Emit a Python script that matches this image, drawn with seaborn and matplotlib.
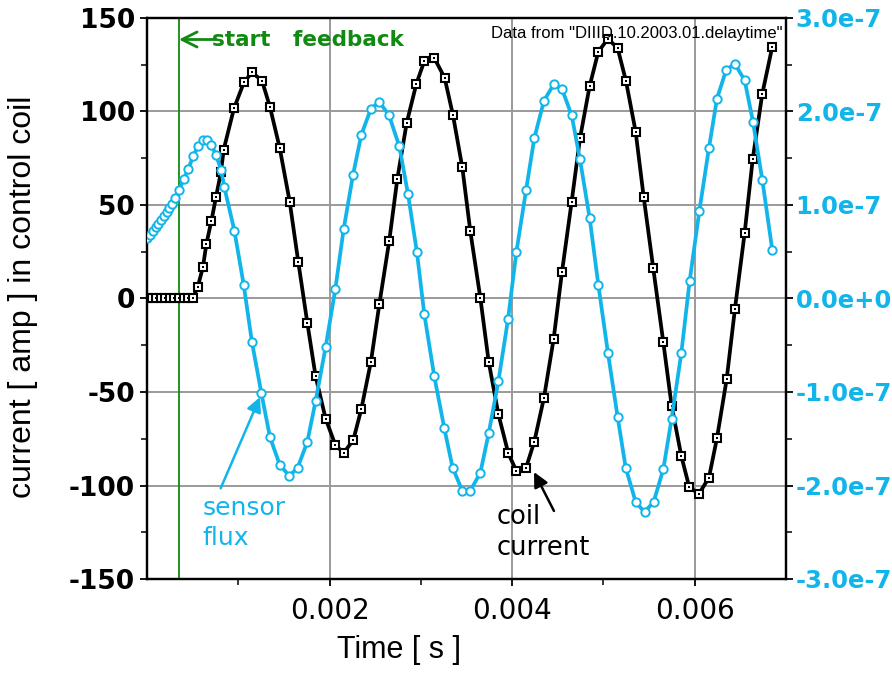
import matplotlib
matplotlib.use("Agg")
import matplotlib.pyplot as plt
import seaborn as sns
import pandas as pd
import numpy as np
from matplotlib.ticker import MultipleLocator, FixedLocator, FuncFormatter

# ---------------- data ----------------
coil_time_ms = [0.00, 0.05, 0.10, 0.15, 0.20, 0.25, 0.30, 0.35, 0.40, 0.45, 0.50,
                0.555, 0.613, 0.650, 0.705, 0.756, 0.810, 0.840,
                0.953, 1.062, 1.150, 1.260, 1.347, 1.453, 1.563, 1.658,
                1.756, 1.847, 1.957, 2.063, 2.154, 2.260, 2.348, 2.453, 2.545,
                2.654, 2.742, 2.844, 2.950, 3.038, 3.147, 3.260, 3.352, 3.454,
                3.542, 3.652,
                3.743, 3.849, 3.958, 4.046, 4.152, 4.243, 4.349, 4.455,
                4.546, 4.652, 4.743, 4.849, 4.944, 5.050, 5.156, 5.247, 5.353, 5.441, 5.546,
                5.656, 5.747, 5.853, 5.941, 6.047, 6.156, 6.244, 6.350, 6.441,
                6.547, 6.635, 6.740, 6.850]
coil_current_amp = [0, 0, 0, 0, 0, 0, 0, 0, 0, 0, 0,
                    6.0, 16.8, 29.1, 41.4, 54.3, 67.6, 79.6,
                    101.7, 115.6, 120.9, 116.5, 102.4, 80.7, 51.8, 19.3,
                    -12.9, -41.6, -64.3, -78.3, -82.6, -75.7, -59.1, -33.8, -3.1,
                    30.9, 63.9, 93.7, 114.7, 127.0, 128.6, 118.1, 98.0, 70.1,
                    35.9, 0.2,
                    -33.8, -61.8, -82.8, -92.2, -90.6, -76.5, -53.0, -21.5,
                    14.2, 51.8, 85.6, 113.6, 132.0, 138.9, 133.8, 116.3, 89.2, 54.3, 16.1,
                    -23.4, -57.3, -84.2, -101.0, -104.4, -95.8, -74.6, -43.2, -5.4,
                    35.0, 74.4, 109.4, 134.7]

sensor_time_ms = [0.005, 0.035, 0.065, 0.095, 0.125, 0.155, 0.185, 0.215, 0.245, 0.275,
                  0.310, 0.354, 0.402, 0.453, 0.507, 0.559, 0.610, 0.657, 0.705, 0.756,
                  0.810, 0.847, 0.957, 1.059,
                  1.150, 1.252, 1.347, 1.453, 1.559, 1.650, 1.756, 1.847, 1.957,
                  2.063, 2.154, 2.256, 2.348, 2.453, 2.545, 2.651, 2.764, 2.859, 2.957,
                  3.038, 3.147, 3.257, 3.348, 3.454, 3.542, 3.652, 3.743, 3.849, 3.955,
                  4.046, 4.152, 4.243, 4.349, 4.455, 4.546, 4.652, 4.743, 4.849, 4.944,
                  5.050, 5.156, 5.244, 5.353, 5.450, 5.550, 5.656, 5.747, 5.853,
                  5.944, 6.050, 6.156, 6.244, 6.346, 6.441, 6.547, 6.639, 6.741, 6.850]
# sensor flux in units of 1e-7
sensor_flux_e7 = [0.644, 0.684, 0.724, 0.760, 0.796, 0.836, 0.878, 0.922, 0.966, 1.012,
                  1.074, 1.164, 1.278, 1.386, 1.528, 1.628, 1.698, 1.698, 1.638, 1.538,
                  1.378, 1.192, 0.726, 0.148,
                  -0.468, -1.008, -1.482, -1.776, -1.898, -1.810, -1.534, -1.096, -0.518,
                  0.100, 0.740, 1.318, 1.752, 2.030, 2.102, 1.960, 1.628, 1.118, 0.494,
                  -0.170, -0.832, -1.388, -1.810, -2.056, -2.056, -1.862, -1.442, -0.886, -0.222,
                  0.494, 1.156, 1.716, 2.116, 2.290, 2.240, 1.960, 1.488, 0.860, 0.148,
                  -0.586, -1.270, -1.810, -2.176, -2.284, -2.176, -1.826, -1.286, -0.586,
                  0.184, 0.932, 1.610, 2.138, 2.448, 2.508, 2.334, 1.888, 1.264, 0.516]

left_ticks = [-150, -100, -50, 0, 50, 100, 150]
right_ticks_e7 = [-3, -2, -1, 0, 1, 2, 3]
x_ticks = [0.002, 0.004, 0.006]
feedback_start_s = 0.00035

coil = pd.DataFrame({"time": np.array(coil_time_ms) * 1e-3, "current": coil_current_amp})
sensor = pd.DataFrame({"time": np.array(sensor_time_ms) * 1e-3,
                       "flux": np.array(sensor_flux_e7) * 1e-7})

# ---------------- style ----------------
sns.set_style("ticks")
plt.rcParams["font.family"] = ["DejaVu Sans"]
plt.rcParams["axes.unicode_minus"] = False
plt.rcParams["text.color"] = "black"
plt.rcParams["axes.labelcolor"] = "black"

BLUE = "#12b5ea"
GREEN = "#128a12"

fig = plt.figure(figsize=(8.92, 6.73), dpi=100)
ax = fig.add_axes([147 / 892, 94 / 673, 639 / 892, 561 / 673])
ax2 = ax.twinx()

# grid
ax.set_xlim(0, 0.007)
ax.set_ylim(-150, 150)
ax2.set_ylim(-3e-7, 3e-7)
ax.xaxis.set_major_locator(FixedLocator(x_ticks))
ax.xaxis.set_minor_locator(FixedLocator([0.001, 0.003, 0.005]))
ax.yaxis.set_major_locator(FixedLocator(left_ticks))
ax.yaxis.set_minor_locator(MultipleLocator(25))
ax2.yaxis.set_major_locator(FixedLocator([v * 1e-7 for v in right_ticks_e7]))
ax2.yaxis.set_minor_locator(MultipleLocator(0.5e-7))
ax.grid(True, which="major", color="#9a9a9a", linewidth=1.4)
ax.set_axisbelow(True)

# curves
sns.lineplot(data=coil, x="time", y="current", ax=ax, color="black", linewidth=2.7,
             marker="s", markersize=5.6, markerfacecolor="white",
             markeredgecolor="black", markeredgewidth=1.5, zorder=3)
sns.scatterplot(data=coil, x="time", y="current", ax=ax, color="black", marker="s",
                s=2.5, linewidth=0, zorder=4)
sns.lineplot(data=sensor, x="time", y="flux", ax=ax2, color=BLUE, linewidth=2.7,
             marker="o", markersize=6.0, markerfacecolor="white",
             markeredgecolor=BLUE, markeredgewidth=1.4, zorder=3)

# start-feedback line
ax.axvline(feedback_start_s, color=GREEN, linewidth=1.3, zorder=2)
ax.annotate("", xy=(feedback_start_s, 138.5), xytext=(0.00075, 138.5),
            arrowprops=dict(arrowstyle="->,head_length=0.6,head_width=0.3", color=GREEN,
                            lw=2.0, mutation_scale=18, shrinkA=0, shrinkB=0))
ax.text(0.00071, 138.5, "start   feedback", color=GREEN, fontsize=15.5,
        fontweight="bold", ha="left", va="center")

ax.text(0.995, 0.985, 'Data from "DIIID.10.2003.01.delaytime"', transform=ax.transAxes,
        ha="right", va="top", fontsize=12, family=["Liberation Sans"])

# sensor flux label
ax.annotate("", xy=(0.001238, -52.7), xytext=(0.000807, -101.5),
            arrowprops=dict(arrowstyle="-|>", color=BLUE, lw=1.8,
                            mutation_scale=22, shrinkA=0, shrinkB=0))
ax.text(0.00061, -112, "sensor", color=BLUE, fontsize=18, ha="left", va="center")
ax.text(0.00061, -128, "flux", color=BLUE, fontsize=18, ha="left", va="center")

# coil current label
ax.annotate("", xy=(0.00424, -92.8), xytext=(0.004458, -113.6),
            arrowprops=dict(arrowstyle="-|>", color="black", lw=1.8,
                            mutation_scale=22, shrinkA=0, shrinkB=0))
ax.text(0.00383, -117, "coil", color="black", fontsize=18.5, ha="left", va="center")
ax.text(0.00383, -133.5, "current", color="black", fontsize=18.5, ha="left", va="center")

# axes / ticks
for a in (ax, ax2):
    for s in a.spines.values():
        s.set_color("black")
        s.set_linewidth(1.6)
ax.tick_params(axis="both", which="major", direction="out", length=5, width=1.3,
               colors="black", labelsize=19)
ax.tick_params(axis="x", labelsize=20, pad=8)
ax.tick_params(axis="both", which="minor", direction="out", length=4, width=1.1,
               colors="black")
ax2.tick_params(axis="y", which="major", direction="out", length=5, width=1.3,
                labelsize=17.5, labelcolor=BLUE, color="black", pad=2)
ax2.tick_params(axis="y", which="minor", direction="out", length=4, width=1.1, color="black")


def sci(v, pos):
    if abs(v) < 1e-20:
        return "0.0e+0"
    m, e = f"{v:.1e}".split("e")
    return f"{m}e{int(e):+d}" if int(e) >= 0 else f"{m}e{int(e)}"


ax2.yaxis.set_major_formatter(FuncFormatter(sci))
ax.xaxis.set_major_formatter(FuncFormatter(lambda v, p: f"{v:.3f}"))

for lab in ax.get_yticklabels() + ax2.get_yticklabels():
    lab.set_fontweight("bold")

ax.set_xlabel("Time [ s ]", fontsize=22, family=["Liberation Sans"], color="black")
ax.set_ylabel("current [ amp ] in control coil", fontsize=23, family=["Liberation Sans"],
              color="black")
ax.xaxis.set_label_coords(0.394, -0.1)
ax.yaxis.set_label_coords(-0.17, 0.503)
ax2.set_ylabel("")

fig.savefig("out.png", dpi=100)
